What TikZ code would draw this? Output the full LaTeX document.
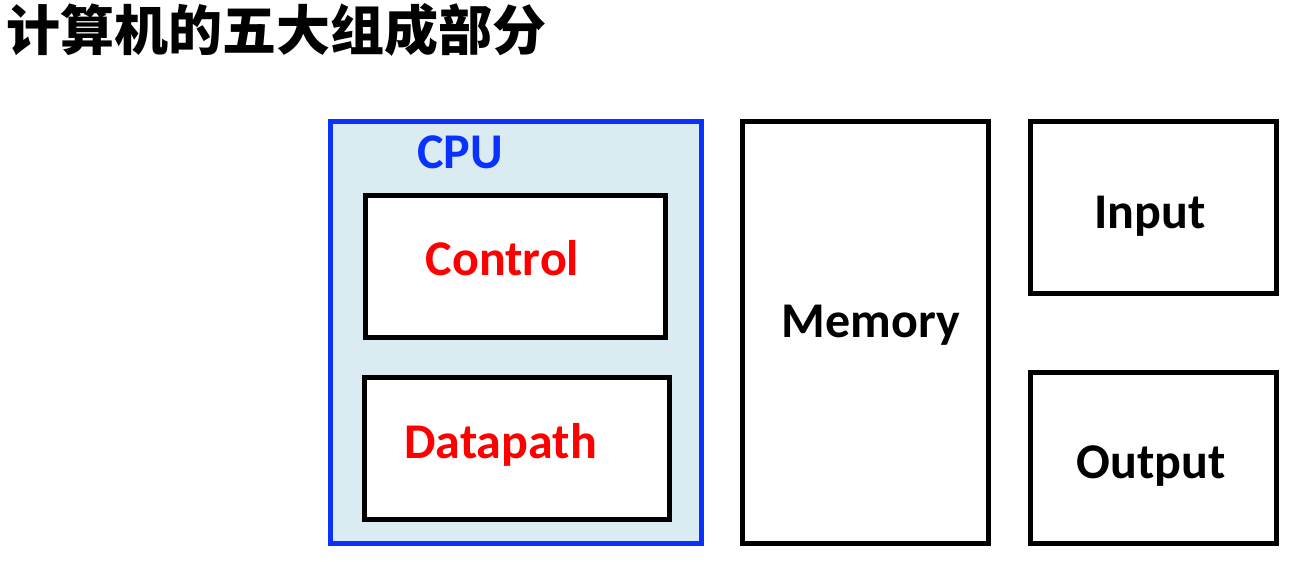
\documentclass[tikz,border=0pt]{standalone}
\usepackage{fontspec}
\setmainfont{Carlito}
\newfontfamily\cjk{Noto Sans CJK SC}
\definecolor{cpublue}{RGB}{10,50,255}
\definecolor{cpufill}{RGB}{218,235,242}
\definecolor{lblred}{RGB}{255,0,0}
\begin{document}
\begin{tikzpicture}[x=1pt,y=-1pt,
  boxbase/.style={line width=5pt,inner sep=0pt,outer sep=0pt,anchor=north west},
  unitbox/.style={boxbase,draw=black,fill=white},
  lbl/.style={font=\fontsize{50}{56}\selectfont\bfseries,inner sep=0pt,anchor=base}]
\useasboundingbox (0,0) rectangle (1312,562);
\node[font=\cjk\fontsize{54}{60}\selectfont\bfseries,anchor=west,inner sep=0pt] (title) at (6,30) {计算机的五大组成部分};
\node[boxbase,draw=cpublue,fill=cpufill,minimum width=371pt,minimum height=422pt] (cpubox) at (330,121) {};
\node[unitbox,minimum width=300pt,minimum height=142pt] (ctlbox) at (365,195) {};
\node[unitbox,minimum width=305pt,minimum height=142pt] (dpbox) at (364,377) {};
\node[unitbox,minimum width=246pt,minimum height=422pt] (membox) at (742,121) {};
\node[unitbox,minimum width=246pt,minimum height=172pt] (inbox) at (1030,121) {};
\node[unitbox,minimum width=246pt,minimum height=171pt] (outbox) at (1030,372) {};
\node[lbl,text=cpublue] (cpul) at (460,168) {CPU};
\node[lbl,text=lblred] (ctl) at (502.5,275) {Control};
\node[lbl,text=lblred] (dp) at (500.5,458) {Datapath};
\node[lbl] (mem) at (871,337) {Memory};
\node[lbl] (inp) at (1150,228) {Input};
\node[lbl] (outp) at (1151,478) {Output};
\end{tikzpicture}
\end{document}
